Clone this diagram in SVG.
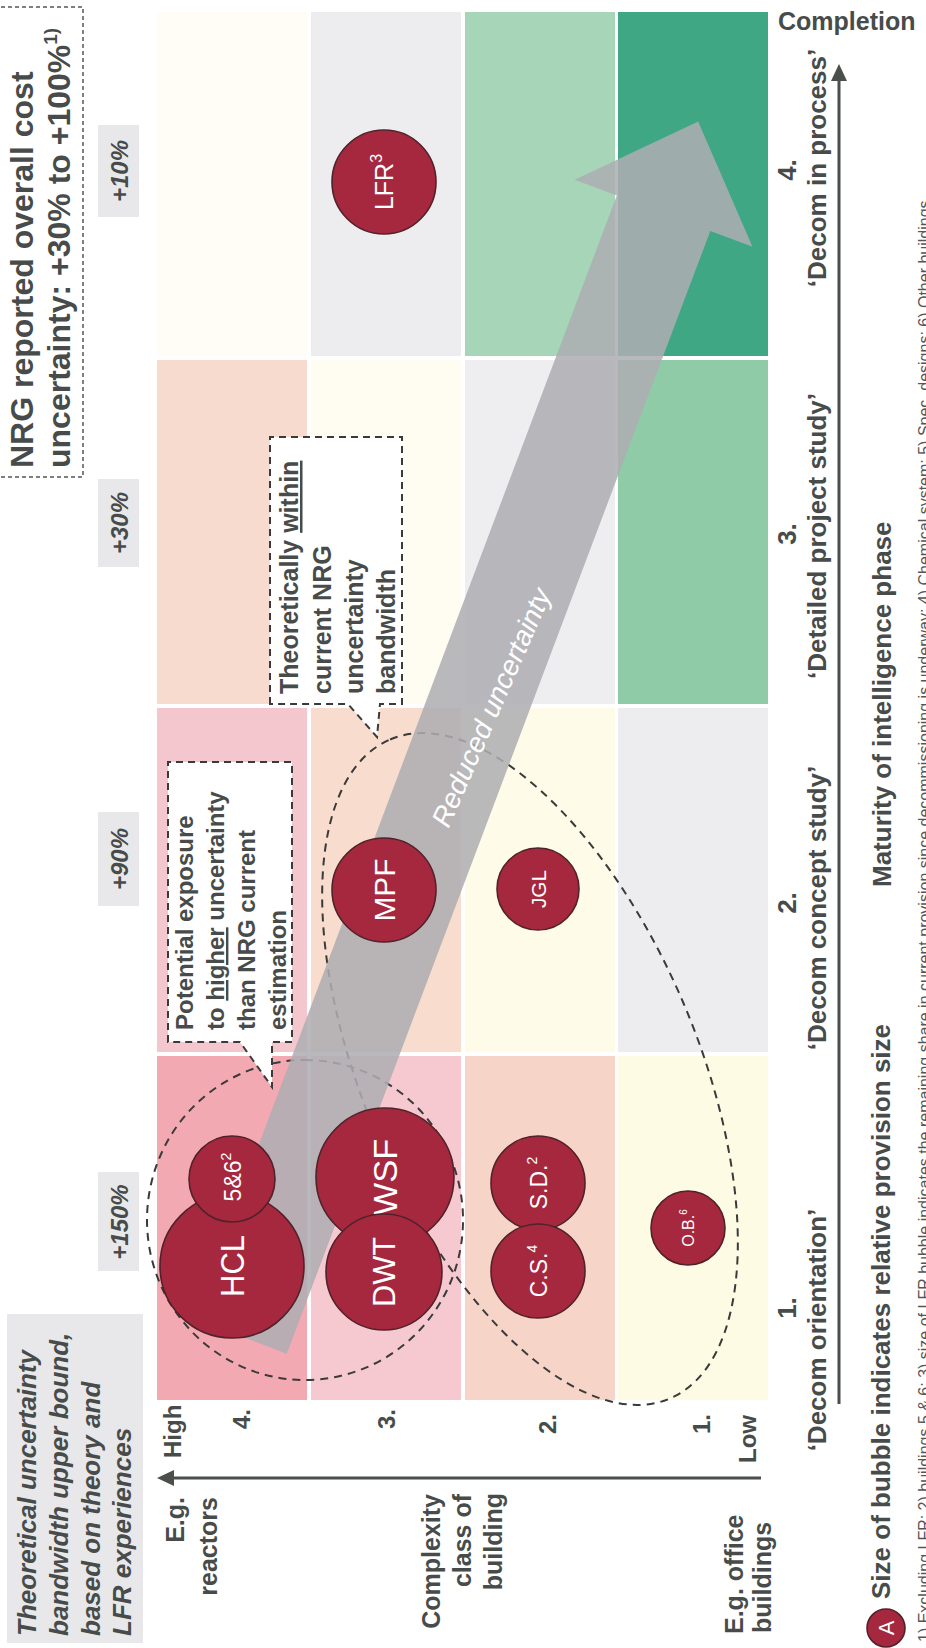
<svg xmlns="http://www.w3.org/2000/svg" width="926" height="1648" viewBox="0 0 926 1648">
<style>
.lbl{font-family:"Liberation Sans",Arial,sans-serif;font-weight:bold;fill:#474c4a}
.it{font-style:italic}
.mid{text-anchor:middle}
.end{text-anchor:end}
.bub{fill:#a6283e;stroke:#51222a;stroke-width:1.6}
.bt{font-family:"Liberation Sans",Arial,sans-serif;fill:#ffffff;text-anchor:middle}
.dash{fill:none;stroke:#3a3a3a;stroke-width:2;stroke-dasharray:8 6}
.call{fill:#ffffff;stroke:#3a3a3a;stroke-width:2;stroke-dasharray:7 5}
.pct{fill:#e8e8ea}
.axis{stroke:#4a4f4c;stroke-width:3;fill:none}
.head{fill:#4a4f4c}
</style>
<rect x="0" y="0" width="926" height="1648" fill="#ffffff"/>

<!-- landscape chart, turned a quarter turn so it reads bottom-to-top -->
<g transform="translate(0,1648) rotate(-90)">

  <!-- matrix cells: columns = maturity phase, rows = complexity class -->
  <g id="cells">
    <rect x="248" y="157" width="344" height="150" fill="#f3a9b2"/>
    <rect x="248" y="311" width="344" height="150" fill="#f5c9cf"/>
    <rect x="248" y="465" width="344" height="150" fill="#f6d5c8"/>
    <rect x="248" y="618" width="344" height="150" fill="#fefbe4"/>
    <rect x="596" y="157" width="344" height="150" fill="#f4c7ce"/>
    <rect x="596" y="311" width="344" height="150" fill="#f8dccd"/>
    <rect x="596" y="465" width="344" height="150" fill="#fefce8"/>
    <rect x="596" y="618" width="344" height="150" fill="#ededf0"/>
    <rect x="944" y="157" width="344" height="150" fill="#f7dbcf"/>
    <rect x="944" y="311" width="344" height="150" fill="#fffdf2"/>
    <rect x="944" y="465" width="344" height="150" fill="#eeeef1"/>
    <rect x="944" y="618" width="344" height="150" fill="#8fcba7"/>
    <rect x="1292" y="157" width="344" height="150" fill="#fffdf6"/>
    <rect x="1292" y="311" width="344" height="150" fill="#ededf0"/>
    <rect x="1292" y="465" width="344" height="150" fill="#a6d5b7"/>
    <rect x="1292" y="618" width="344" height="150" fill="#3fa784"/>
  </g>

  <!-- header boxes -->
  <g id="upper-bound-note">
    <rect x="5" y="7" width="329" height="136" fill="#e8e8ea"/>
    <text class="lbl it" font-size="26" x="12" y="36">Theoretical uncertainty</text>
    <text class="lbl it" font-size="26" x="12" y="68">bandwidth upper bound,</text>
    <text class="lbl it" font-size="26" x="12" y="100">based on theory and</text>
    <text class="lbl it" font-size="26" x="12" y="131">LFR experiences</text>
  </g>
  <g id="nrg-note">
    <rect x="1171" y="-5" width="470" height="88" fill="none" stroke="#555" stroke-width="1.5" stroke-dasharray="4 3"/>
    <text class="lbl" font-size="32" x="1180" y="33">NRG reported overall cost</text>
    <text class="lbl" font-size="32" x="1180" y="70">uncertainty: +30% to +100%<tspan font-size="19" dy="-13">1)</tspan></text>
  </g>

  <!-- percentage tags per phase -->
  <g id="pct-tags">
    <rect class="pct" x="377" y="98" width="99" height="41"/>
    <text class="lbl it mid" font-size="24" x="426" y="128">+150%</text>
    <rect class="pct" x="742" y="98" width="94" height="41"/>
    <text class="lbl it mid" font-size="24" x="789" y="128">+90%</text>
    <rect class="pct" x="1081" y="98" width="88" height="41"/>
    <text class="lbl it mid" font-size="24" x="1125" y="128">+30%</text>
    <rect class="pct" x="1431" y="98" width="92" height="41"/>
    <text class="lbl it mid" font-size="24" x="1477" y="128">+10%</text>
  </g>

  <!-- dashed groupings -->
  <g id="groupings">
    <ellipse class="dash" cx="579" cy="530" rx="358" ry="167" transform="rotate(-23 579 530)"/>
    <ellipse class="dash" cx="428" cy="305" rx="160" ry="158"/>
  </g>

  <!-- reduced-uncertainty arrow -->
  <g id="trend-arrow" transform="translate(312,240) rotate(20.67)">
    <path d="M0,-50 L1200,-50 L1200,-95 L1298,0 L1200,95 L1200,50 L0,50 Z" fill="#adadb2" fill-opacity="0.86"/>
    <text font-family="'Liberation Sans',Arial,sans-serif" font-style="italic" font-size="28" fill="#ffffff" transform="translate(548,16) rotate(3)">Reduced uncertainty</text>
  </g>

  <!-- callouts -->
  <g id="callout-higher">
    <path class="call" d="M606,168 L886,168 L886,292 L606,292 L606,272 L561,272 L606,240 Z"/>
    <text class="lbl" font-size="24" x="618" y="193">Potential exposure</text>
    <text class="lbl" font-size="24" x="618" y="224">to <tspan text-decoration="underline">higher</tspan> uncertainty</text>
    <text class="lbl" font-size="24" x="618" y="255">than NRG current</text>
    <text class="lbl" font-size="24" x="618" y="286">estimation</text>
  </g>
  <g id="callout-within">
    <path class="call" d="M944,270 L1211,270 L1211,402 L944,402 L944,380 L911,377 L944,348 Z"/>
    <text class="lbl" font-size="25" x="954" y="298">Theoretically <tspan text-decoration="underline">within</tspan></text>
    <text class="lbl" font-size="25" x="954" y="331">current NRG</text>
    <text class="lbl" font-size="25" x="954" y="363">uncertainty</text>
    <text class="lbl" font-size="25" x="954" y="395">bandwidth</text>
  </g>

  <!-- provision bubbles -->
  <g id="bubble-lfr">
    <circle class="bub" cx="1466" cy="384" r="52"/>
    <text class="bt" font-size="25" x="1466" y="393">LFR<tspan font-size="16" dy="-11">3</tspan></text>
  </g>
  <g id="bubble-mpf">
    <circle class="bub" cx="758" cy="384" r="52"/>
    <text class="bt" font-size="30" x="758" y="395" textLength="63" lengthAdjust="spacingAndGlyphs">MPF</text>
  </g>
  <g id="bubble-jgl">
    <circle class="bub" cx="759" cy="538" r="41"/>
    <text class="bt" font-size="21" x="759" y="546" textLength="38" lengthAdjust="spacingAndGlyphs">JGL</text>
  </g>
  <g id="bubble-wsf">
    <circle class="bub" cx="471" cy="385" r="69"/>
    <text class="bt" font-size="33" x="471" y="397" textLength="77" lengthAdjust="spacingAndGlyphs">WSF</text>
  </g>
  <g id="bubble-dwt">
    <circle class="bub" cx="376" cy="384" r="58"/>
    <text class="bt" font-size="31" x="376" y="395" textLength="70" lengthAdjust="spacingAndGlyphs">DWT</text>
  </g>
  <g id="bubble-hcl">
    <circle class="bub" cx="382" cy="232" r="72"/>
    <text class="bt" font-size="34" x="382" y="244" textLength="62" lengthAdjust="spacingAndGlyphs">HCL</text>
  </g>
  <g id="bubble-56">
    <circle class="bub" cx="469" cy="232" r="43"/>
    <text class="bt" font-size="23" x="471" y="241">5&amp;6<tspan font-size="14" dy="-10">2</tspan></text>
  </g>
  <g id="bubble-sd">
    <circle class="bub" cx="465" cy="538" r="47"/>
    <text class="bt" font-size="23" x="465" y="547">S.D.<tspan font-size="14" dy="-10">2</tspan></text>
  </g>
  <g id="bubble-cs">
    <circle class="bub" cx="377" cy="538" r="47"/>
    <text class="bt" font-size="23" x="377" y="547">C.S.<tspan font-size="14" dy="-10">4</tspan></text>
  </g>
  <g id="bubble-ob">
    <circle class="bub" cx="420" cy="688" r="37"/>
    <text class="bt" font-size="16" x="420" y="694">O.B.<tspan font-size="10" dy="-7">6</tspan></text>
  </g>

  <!-- axes -->
  <g id="axes">
    <line class="axis" x1="170" y1="761" x2="170" y2="170"/>
    <polygon class="head" points="170,157 162,174 178,174"/>
    <line class="axis" x1="244" y1="839" x2="1570" y2="839"/>
    <polygon class="head" points="1584,839 1567,831 1567,847"/>
  </g>

  <!-- complexity axis labels -->
  <g id="complexity-labels">
    <text class="lbl" font-size="24" x="190" y="181">High</text>
    <text class="lbl mid" font-size="24" x="229" y="250">4.</text>
    <text class="lbl mid" font-size="24" x="229" y="395">3.</text>
    <text class="lbl mid" font-size="24" x="224" y="556">2.</text>
    <text class="lbl mid" font-size="24" x="224" y="710">1.</text>
    <text class="lbl" font-size="24" x="185" y="756">Low</text>
    <text class="lbl end" font-size="25" x="151" y="184">E.g.</text>
    <text class="lbl end" font-size="25" x="151" y="217">reactors</text>
    <text class="lbl end" font-size="25" x="154" y="440">Complexity</text>
    <text class="lbl end" font-size="25" x="154" y="471">class of</text>
    <text class="lbl end" font-size="25" x="155" y="502">building</text>
    <text class="lbl" font-size="25" x="14" y="743">E.g. office</text>
    <text class="lbl" font-size="25" x="15" y="771">buildings</text>
  </g>

  <!-- maturity axis labels -->
  <g id="phase-labels">
    <text class="lbl mid" font-size="26" x="340" y="796">1.</text>
    <text class="lbl mid" font-size="26" x="318" y="826">‘Decom orientation’</text>
    <text class="lbl mid" font-size="26" x="745" y="796">2.</text>
    <text class="lbl mid" font-size="26" x="740" y="826">‘Decom concept study’</text>
    <text class="lbl mid" font-size="26" x="1114" y="796">3.</text>
    <text class="lbl mid" font-size="26" x="1112" y="826">‘Detailed project study’</text>
    <text class="lbl mid" font-size="26" x="1478" y="796">4.</text>
    <text class="lbl mid" font-size="26" x="1480" y="826">‘Decom in process’</text>
    <text class="lbl" font-size="26" x="761" y="891">Maturity of intelligence phase</text>
  </g>

  <!-- legend and footnotes -->
  <g id="legend">
    <circle class="bub" cx="20" cy="886" r="19"/>
    <text class="bt" font-size="22" x="20" y="894">A</text>
    <text class="lbl" font-size="26" x="49" y="890">Size of bubble indicates relative provision size</text>
  </g>
  <g id="footnotes">
    <text font-family="'Liberation Sans',Arial,sans-serif" font-size="16" fill="#555" x="6" y="930">1) Excluding LFR; 2) buildings 5 &amp; 6; 3) size of LFR bubble indicates the remaining share in current provision since decommissioning is underway; 4) Chemical system; 5) Spec. designs; 6) Other buildings</text>
  </g>
</g>

<text class="lbl" font-size="25" x="778" y="30">Completion</text>
</svg>
